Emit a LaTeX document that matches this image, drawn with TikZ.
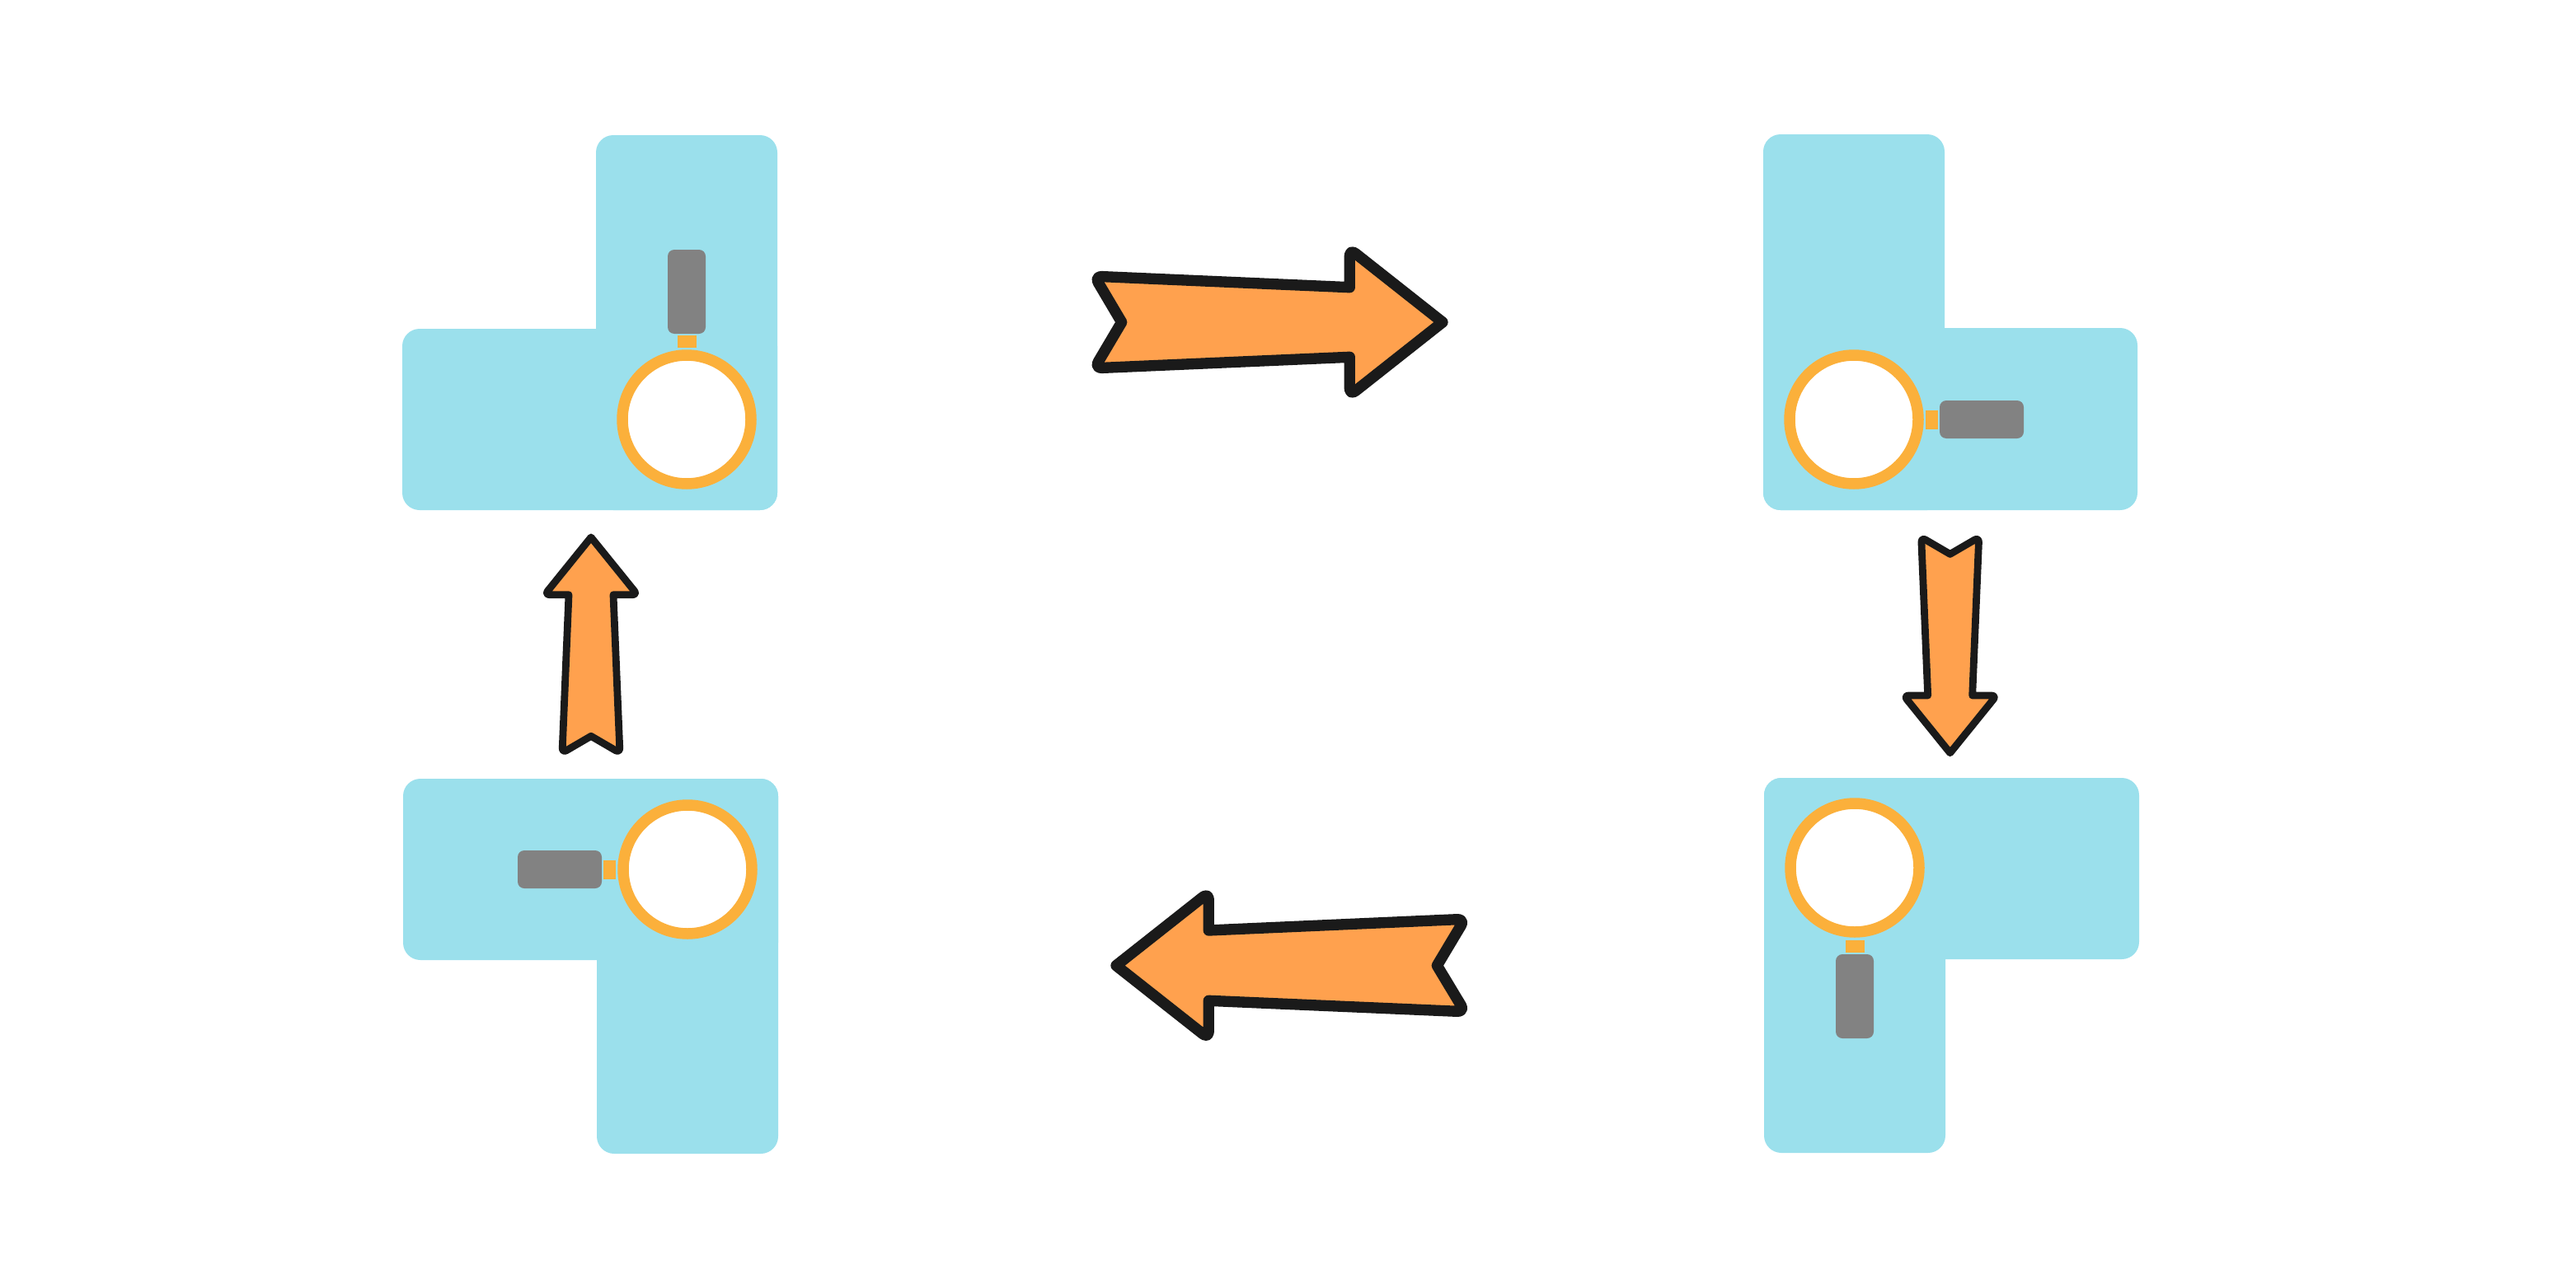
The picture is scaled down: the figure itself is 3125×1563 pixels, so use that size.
\documentclass[tikz,border=0pt]{standalone}
\usepackage{xcolor}
\usepackage{tikz}
\definecolor{padblue}{HTML}{9BE0EC}
\definecolor{ringorange}{HTML}{FBB03B}
\definecolor{gripgray}{HTML}{828282}
\definecolor{arroworange}{HTML}{FFA14E}
\definecolor{arrowblack}{HTML}{1A1A1A}
\tikzset{
  pad/.style={fill=padblue, rounded corners=2.1mm},
  lens/.style={circle, draw=ringorange, fill=white, line width=3.84pt,
    minimum size=15.6mm, inner sep=0pt},
  neck/.style={rectangle, fill=ringorange, inner sep=0pt},
  grip/.style={rectangle, fill=gripgray, rounded corners=0.8mm, inner sep=0pt},
  bigarrow/.style={draw=arrowblack, fill=arroworange, line join=round, line width=3.8pt},
  slimarrow/.style={draw=arrowblack, fill=arroworange, line join=round, line width=2.5pt},
  bigr/.style={rounded corners=0.9mm},
  slimr/.style={rounded corners=0.6mm}
}

\begin{document}
\begin{tikzpicture}[x=0.1mm, y=-0.1mm]
  \useasboundingbox (0,0) rectangle (3125,1563);
  % top left
  \fill[pad] (723,164) rectangle (943,619);
  \fill[pad] (488,399) rectangle (943,619);
  \node[lens] (lens1) at (833,509) {};
  \node[neck, minimum width=2.3mm, minimum height=1.55mm] (neck1) at (833,414.5) {};
  \node[grip, minimum width=4.6mm, minimum height=10.2mm] (grip1) at (833,354) {};
  % top right
  \fill[pad] (2139,163) rectangle (2359,619);
  \fill[pad] (2139,398) rectangle (2593,619);
  \node[lens] (lens2) at (2249,509) {};
  \node[neck, minimum width=1.55mm, minimum height=2.3mm] (neck2) at (2343.5,509) {};
  \node[grip, minimum width=10.2mm, minimum height=4.6mm] (grip2) at (2404,509) {};
  % bottom right
  \fill[pad] (2140,944) rectangle (2360,1399);
  \fill[pad] (2140,944) rectangle (2595,1164);
  \node[lens] (lens3) at (2250,1053) {};
  \node[neck, minimum width=2.3mm, minimum height=1.55mm] (neck3) at (2250,1148.5) {};
  \node[grip, minimum width=4.6mm, minimum height=10.2mm] (grip3) at (2250,1209) {};
  % bottom left
  \fill[pad] (724,945) rectangle (944,1400);
  \fill[pad] (489,945) rectangle (944,1165);
  \node[lens] (lens4) at (834,1055) {};
  \node[neck, minimum width=1.55mm, minimum height=2.3mm] (neck4) at (739.5,1055) {};
  \node[grip, minimum width=10.2mm, minimum height=4.6mm] (grip4) at (679,1055) {};
  % arrows
  \draw[bigarrow] (1750,391) [bigr] -- (1637.3,480) [sharp corners] -- (1637.3,433.3)
    [bigr] -- (1327.7,446.8) [sharp corners] -- (1360.7,391) [bigr] -- (1327.7,335.2)
    [sharp corners] -- (1637.3,348.7) [bigr] -- (1637.3,302) [sharp corners] -- cycle;
  \draw[slimarrow] (2365.7,913.7) [slimr] -- (2309.4,844) [sharp corners] -- (2338.7,844)
    [slimr] -- (2330.7,652) [sharp corners] -- (2365.7,672.4) [slimr] -- (2400.7,652)
    [sharp corners] -- (2392.7,844) [slimr] -- (2422,844) [sharp corners] -- cycle;
  \draw[bigarrow] (1354,1171.7) [bigr] -- (1466.3,1083) [sharp corners] -- (1466.3,1129)
    [bigr] -- (1777,1115.3) [sharp corners] -- (1743.3,1171.7) [bigr] -- (1777,1227.7)
    [sharp corners] -- (1466.3,1214.3) [bigr] -- (1466.3,1260.3) [sharp corners] -- cycle;
  \draw[slimarrow] (717,652) [slimr] -- (773.3,721.7) [sharp corners] -- (744,721.7)
    [slimr] -- (752,913.7) [sharp corners] -- (717,893.3) [slimr] -- (682,913.7)
    [sharp corners] -- (690,721.7) [slimr] -- (660.7,721.7) [sharp corners] -- cycle;
\end{tikzpicture}
\end{document}
